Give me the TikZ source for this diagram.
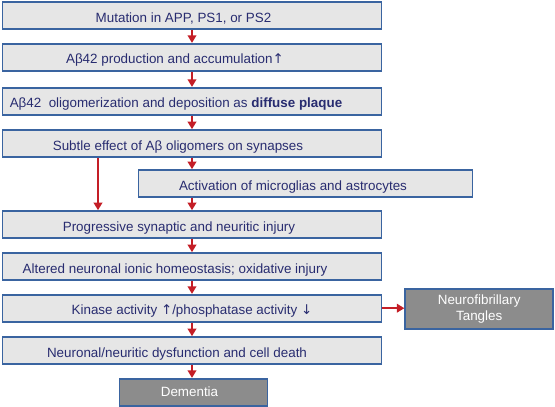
\documentclass[tikz,border=0pt]{standalone}
\usepackage{fontspec}
\setmainfont{Liberation Sans}
\newfontfamily\symfont{DejaVu Sans}
\usetikzlibrary{arrows.meta}
\definecolor{boxfill}{HTML}{E6E6E6}
\definecolor{boxline}{HTML}{3A64A0}
\definecolor{boxtext}{HTML}{282C70}
\definecolor{darkfill}{HTML}{8C8C8C}
\definecolor{flowred}{HTML}{C41E26}
\newcommand{\arrup}{{\symfont ↑}}
\newcommand{\arrdown}{{\symfont ↓}}
\tikzset{
  basebox/.style={draw=boxline, line width=1.6pt, fill=boxfill, text=boxtext,
    font=\fontsize{13.4}{16}\selectfont, minimum width=379pt, minimum height=27pt, inner sep=0pt},
  box/.style={basebox, text height=13pt, text depth=0pt},
  endbox/.style={basebox, fill=darkfill, text=white, align=center},
  flow/.style={draw=flowred, line width=2pt, -{Triangle[length=7.5pt,width=8.5pt]}}
}
\begin{document}
\begin{tikzpicture}[x=1pt, y=-1pt, line join=miter]
    \useasboundingbox (0,0) rectangle (555,407);
    % main chain
    \node[box] (mut)  at (192,15.5)  {Mutation in APP, PS1, or PS2\hspace*{17pt}};
    \node[box] (prod) at (192,57.2)  {Aβ42 production and accumulation\arrup\hspace*{34pt}};
    \node[box] (olig) at (192,101.2) {Aβ42\ \ oligomerization and deposition as \textbf{diffuse plaque}\hspace*{32pt}};
    \node[box] (sub)  at (192,143.5) {Subtle effect of Aβ oligomers on synapses\hspace*{28pt}};
    \node[box, minimum width=334pt] (act) at (305.5,183.5) {Activation of microglias and astrocytes\hspace*{25pt}};
    \node[box] (prog) at (192,224.5) {Progressive synaptic and neuritic injury\hspace*{26pt}};
    \node[box] (alt)  at (192,266.5) {Altered neuronal ionic homeostasis; oxidative injury\hspace*{34pt}};
    \node[box] (kin)  at (192,308.2) {Kinase activity \arrup/phosphatase activity \arrdown};
    \node[box] (neu)  at (192,350.5) {Neuronal/neuritic dysfunction and cell death\hspace*{30pt}};
    % outcomes
    \node[endbox, minimum width=148pt, minimum height=27pt] (dem) at (193.5,392.2) {Dementia\hspace*{8pt}};
    \node[endbox, minimum width=148pt, minimum height=40pt] (tau) at (479.2,309.2) {Neurofibrillary\\Tangles};
    % arrows
    \draw[flow] (mut) -- (prod);
    \draw[flow] (prod) -- (olig);
    \draw[flow] (olig) -- (sub);
    \draw[flow] (sub.south) -- (sub.south |- act.north);
    \draw[flow] (prog.north |- act.south) -- (prog.north);
    \draw[flow] ([xshift=-94pt]sub.south) -- ([xshift=-94pt]prog.north);
    \draw[flow] (prog) -- (alt);
    \draw[flow] (alt) -- (kin);
    \draw[flow] (kin) -- (neu);
    \draw[flow] (kin.east) -- (kin.east -| tau.west);
    \draw[flow] (neu.south) -- (neu.south |- dem.north);
\end{tikzpicture}
\end{document}
